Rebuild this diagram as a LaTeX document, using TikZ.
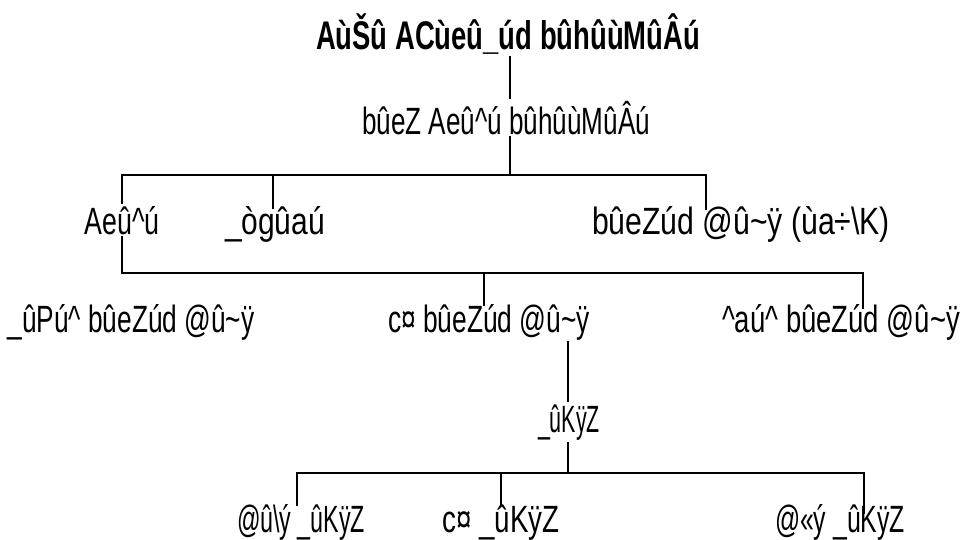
\documentclass[tikz,border=0pt]{standalone}
\usepackage{fontspec}
\usepackage{graphicx}
\setmainfont{Liberation Sans}
\newlength\fwlen
\newcommand{\fw}[2]{\settowidth{\fwlen}{#2}\scalebox{\fpeval{#1/\fwlen}}[1]{#2}}
\tikzset{
  lbl/.style={anchor=base, inner sep=2pt, fill=white, font=\fontsize{38}{40}\selectfont},
  ttl/.style={lbl, font=\fontsize{40}{42}\selectfont\bfseries},
  ln/.style={line width=1.7pt, line cap=rect}
}
\begin{document}
\begin{tikzpicture}[x=1pt, y=-1pt]
\useasboundingbox (0,0) rectangle (966,539);
% junction coordinates
\coordinate (a0) at (510,54);
\coordinate (a1) at (510,175);
\coordinate (bL) at (122,175);
\coordinate (bR) at (706,175);
\coordinate (bM) at (273,175);
\coordinate (bMe) at (273,208);
\coordinate (bRe) at (706,209);
\coordinate (cL) at (122,273);
\coordinate (cR) at (863,273);
\coordinate (cM) at (484,273);
\coordinate (cMe) at (484,305);
\coordinate (cRe) at (863,308);
\coordinate (d0) at (568,342);
\coordinate (d1) at (568,473);
\coordinate (eL) at (297,473);
\coordinate (eR) at (864,473);
\coordinate (eM) at (501,473);
\coordinate (eLe) at (297,505);
\coordinate (eMe) at (501,505);
\coordinate (eRe) at (864,513);
% connectors
\draw[ln] (a0) -- (a1);
\draw[ln] (bMe) -- (bM) -- (bL) -- (cL) -- (cR) -- (cRe);
\draw[ln] (bM) -- (bR) -- (bRe);
\draw[ln] (cM) -- (cMe);
\draw[ln] (d0) -- (d1);
\draw[ln] (eLe) -- (eL) -- (eR) -- (eRe);
\draw[ln] (eM) -- (eMe);
% nodes
\node[ttl] (t0) at (508,49) {\fw{384}{AùŠû ACùeû\_úd bûhûùMûÂú}};
\node[lbl] (t1) at (506,134) {\fw{288}{bûeZ Aeû\textasciicircum{}ú bûhûùMûÂú}};
\node[lbl] (t2a) at (122,234) {\fw{75}{Aeû\textasciicircum{}ú}};
\node[lbl, fill=none] (t2b) at (275,234) {\fw{100}{\_ògûaú}};
\node[lbl, fill=none] (t2c) at (741,234) {\fw{298}{bûeZúd @û\textasciitilde{}ÿ (ùa÷\textbackslash K)}};
\node[lbl, fill=none] (t3a) at (131,332) {\fw{247}{\_ûPú\textasciicircum{} bûeZúd @û\textasciitilde{}ÿ}};
\node[lbl, fill=none] (t3b) at (489,332) {\fw{202}{c¤ bûeZúd @û\textasciitilde{}ÿ}};
\node[lbl, fill=none] (t3c) at (841,332) {\fw{238}{\textasciicircum{}aú\textasciicircum{} bûeZúd @û\textasciitilde{}ÿ}};
\node[lbl] (t4) at (569,432) {\fw{62}{\_ûKÿZ}};
\node[lbl, fill=none] (t5a) at (301,532) {\fw{128}{@û\textbackslash ý \_ûKÿZ}};
\node[lbl, fill=none] (t5b) at (501,532) {\fw{117}{c¤ \_ûKÿZ}};
\node[lbl, fill=none] (t5c) at (840,532) {\fw{130}{@«ý \_ûKÿZ}};
\end{tikzpicture}
\end{document}
